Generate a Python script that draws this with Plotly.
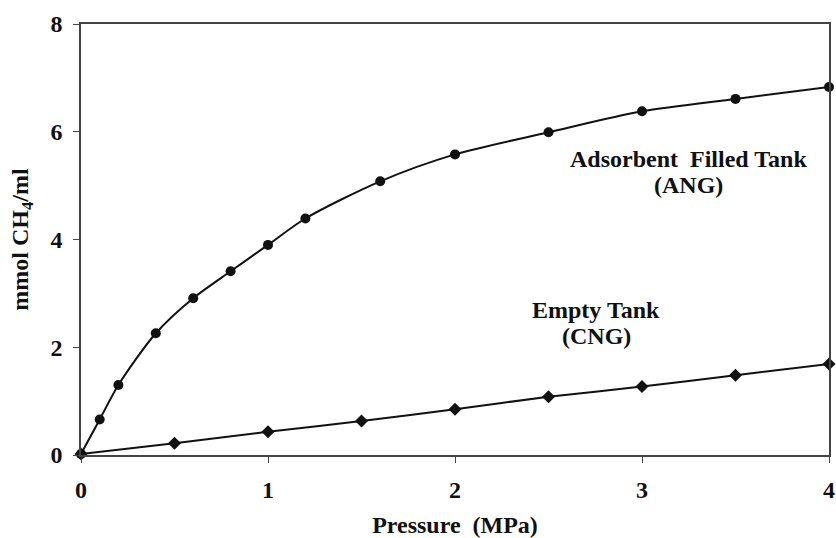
import plotly.graph_objects as go

# Methane storage density vs. pressure
ang_pressure = [0, 0.1, 0.2, 0.4, 0.6, 0.8, 1.0, 1.2, 1.6, 2.0, 2.5, 3.0, 3.5, 4.0]
ang_density = [0.02, 0.66, 1.30, 2.26, 2.91, 3.41, 3.90, 4.39, 5.08, 5.58, 5.99, 6.38, 6.61, 6.83]

cng_pressure = [0, 0.5, 1.0, 1.5, 2.0, 2.5, 3.0, 3.5, 4.0]
cng_density = [0.02, 0.22, 0.43, 0.63, 0.85, 1.08, 1.27, 1.48, 1.69]

x_ticks = [0, 1, 2, 3, 4]
y_ticks = [0, 2, 4, 6, 8]

FONT = "'Liberation Serif', 'DejaVu Serif', serif"
INK = "#111111"

fig = go.Figure()
fig.add_trace(go.Scatter(
    x=ang_pressure, y=ang_density, mode="lines+markers",
    line=dict(color=INK, width=2, shape="spline", smoothing=0.8),
    marker=dict(symbol="circle", size=10, color=INK),
    cliponaxis=False, showlegend=False,
))
fig.add_trace(go.Scatter(
    x=cng_pressure, y=cng_density, mode="lines+markers",
    line=dict(color=INK, width=2, shape="spline", smoothing=0.8),
    marker=dict(symbol="diamond", size=10, color=INK),
    cliponaxis=False, showlegend=False,
))

axis_common = dict(
    showgrid=False, zeroline=False, showline=True, linecolor="#444444", linewidth=1.5,
    mirror=True, ticks="outside", ticklen=6, tickcolor="#444444", tickwidth=1,
    tickfont=dict(family=FONT, size=24, color=INK), automargin=False,
)

fig.update_xaxes(range=[0, 4], tickvals=x_ticks, ticktext=[f"<b>{v}</b>" for v in x_ticks],
                 ticklabelstandoff=6,
                 title=dict(text="<b>Pressure  (MPa)</b>", font=dict(family=FONT, size=24, color=INK)),
                 **axis_common)
fig.update_yaxes(range=[0, 8], tickvals=y_ticks, ticktext=[f"<b>{v}</b>" for v in y_ticks],
                 ticklabelstandoff=6,
                 title=dict(text="<b>mmol CH<sub>4</sub>/ml</b>", font=dict(family=FONT, size=24, color=INK)),
                 **axis_common)

label_font = dict(family=FONT, size=24, color=INK)
fig.add_annotation(x=3.246, y=5.49, text="<b>Adsorbent  Filled Tank</b>", showarrow=False, font=label_font)
fig.add_annotation(x=3.246, y=5.01, text="<b>(ANG)</b>", showarrow=False, font=label_font)
fig.add_annotation(x=2.754, y=2.69, text="<b>Empty Tank</b>", showarrow=False, font=label_font)
fig.add_annotation(x=2.754, y=2.21, text="<b>(CNG)</b>", showarrow=False, font=label_font)

fig.update_layout(
    width=836, height=538,
    margin=dict(l=81, r=7, t=24, b=83),
    paper_bgcolor="white", plot_bgcolor="white",
    font=dict(family=FONT, color=INK),
)

fig.write_html("out.html")
